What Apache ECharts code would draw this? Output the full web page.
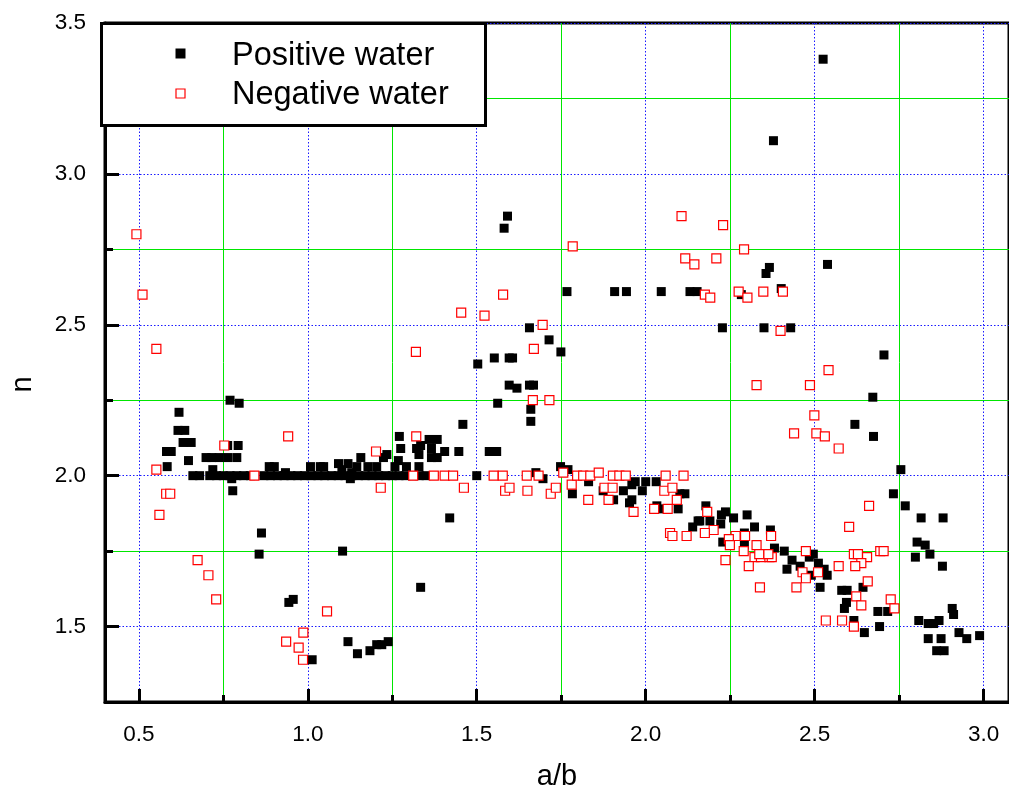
<!DOCTYPE html>
<html>
<head>
<meta charset="utf-8">
<script src="https://cdn.jsdelivr.net/npm/echarts@6/dist/echarts.min.js"></script>
<style>html,body{margin:0;padding:0;background:#fff}#c{width:1009px;height:796px}</style>
</head>
<body>
<div id="c"></div>
<script>
// ---- data ----
const seriesNames = ['Positive water', 'Negative water'];
const xTitle = 'a/b';
const yTitle = 'n';
const xMajorTicks = [0.5, 1.0, 1.5, 2.0, 2.5, 3.0];
const xMinorTicks = [0.75, 1.25, 1.75, 2.25, 2.75];
const yMajorTicks = [1.5, 2.0, 2.5, 3.0, 3.5];
const yMinorTicks = [1.75, 2.25, 2.75, 3.25];
const xRange = [0.4, 3.075];
const yRange = [1.25, 3.5];

const positiveWater = [
  [0.584,2.03],[0.582,2.08],[0.596,2.08],[0.616,2.15],[0.636,2.15],[0.619,2.21],[0.631,2.11],[0.655,2.11],
  [0.647,2.05],[0.699,2.06],[0.716,2.06],[0.738,2.06],[0.763,2.06],[0.79,2.06],[0.719,2.02],[0.763,2.10],
  [0.794,2.10],[0.77,2.25],[0.797,2.24],[0.775,1.99],[0.778,1.95],[0.863,1.81],[0.856,1.74],[0.944,1.58],
  [0.957,1.59],[1.013,1.39],[1.103,1.75],[1.119,1.45],[1.147,1.41],[1.184,1.42],[1.204,1.44],[1.219,1.44],
  [1.238,1.45],[1.334,1.63],[1.42,1.86],
  [0.66,2.0],[0.68,2.0],[0.71,2.0],[0.73,2.0],[0.75,2.0],[0.77,2.0],[0.79,2.0],[0.81,2.0],[0.83,2.0],
  [0.87,2.0],[0.89,2.0],[0.91,2.0],[0.93,2.0],[0.95,2.0],[0.97,2.0],[0.99,2.0],[1.01,2.0],[1.03,2.0],
  [1.05,2.0],[1.07,2.0],[1.09,2.0],[1.11,2.0],[1.13,2.0],[1.15,2.0],[1.17,2.0],[1.19,2.0],[1.21,2.0],
  [1.23,2.0],[1.25,2.0],[1.27,2.0],[1.29,2.0],[1.31,2.0],[1.33,2.0],[1.35,2.0],[1.50,2.0],
  [0.886,2.03],[0.901,2.03],[0.934,2.01],[1.008,2.03],[1.037,2.03],[1.047,2.03],[1.091,2.04],[1.119,2.04],
  [1.101,2.02],[1.13,2.01],[1.126,1.99],[1.145,2.03],[1.178,2.03],[1.204,2.03],[1.157,2.06],[1.224,2.06],
  [1.234,2.07],[1.258,2.03],[1.268,2.05],[1.275,2.09],[1.271,2.13],[1.292,2.03],[1.329,2.03],[1.329,2.07],
  [1.334,2.10],[1.322,2.09],[1.366,2.09],[1.359,2.12],[1.383,2.12],[1.366,2.06],[1.383,2.06],[1.405,2.08],
  [1.447,2.08],[1.459,2.17],[1.537,2.08],[1.559,2.08],[1.503,2.37],[1.552,2.39],[1.562,2.24],[1.581,2.82],
  [1.591,2.86],[1.596,2.39],[1.606,2.39],[1.596,2.30],[1.619,2.29],[1.656,2.30],[1.668,2.30],[1.656,2.49],
  [1.714,2.45],[1.749,2.41],[1.66,2.18],[1.66,2.22],
  [1.767,2.61],[1.908,2.61],[1.943,2.61],[2.046,2.61],[2.131,2.61],[2.152,2.61],[2.283,2.60],[2.401,2.62],
  [2.227,2.49],[2.35,2.49],[2.429,2.49],[2.366,2.69],[2.356,2.67],[2.538,2.70],[2.378,3.11],[2.525,3.38],
  [2.705,2.40],[2.672,2.26],[2.619,2.17],[2.674,2.13],[2.755,2.02],[2.733,1.94],[2.768,1.90],[2.815,1.86],
  [2.88,1.86],[2.803,1.78],[2.827,1.77],[2.798,1.73],[2.841,1.74],[2.878,1.70],
  [1.675,2.01],[1.696,1.99],[1.748,2.03],[1.77,2.02],[1.783,1.94],[1.831,1.98],[1.874,1.95],[1.905,1.92],
  [1.934,1.95],[1.959,1.97],[1.969,1.98],[2.0,1.98],[2.031,1.98],[1.99,1.95],[1.952,1.91],[1.959,1.92],
  [2.101,1.94],[2.116,1.94],[2.033,1.90],[2.047,1.89],[2.096,1.89],[2.178,1.90],[2.224,1.87],[2.236,1.88],
  [2.26,1.86],[2.30,1.87],[2.16,1.85],[2.19,1.85],[2.222,1.84],[2.139,1.83],[2.155,1.85],[2.322,1.83],
  [2.292,1.81],[2.369,1.82],[2.228,1.78],[2.292,1.77],[2.381,1.76],[2.41,1.75],[2.496,1.74],[2.433,1.72],
  [2.484,1.73],[2.511,1.71],[2.528,1.69],[2.418,1.69],[2.457,1.70],[2.537,1.67],[2.49,1.67],[2.516,1.63],
  [2.58,1.62],[2.596,1.62],[2.594,1.58],[2.588,1.56],[2.643,1.63],[2.616,1.52],[2.647,1.48],[2.687,1.55],
  [2.716,1.55],[2.692,1.50],[2.808,1.52],[2.836,1.51],[2.852,1.51],[2.868,1.52],[2.836,1.46],[2.874,1.46],
  [2.861,1.42],[2.883,1.42],[2.907,1.56],[2.911,1.54],[2.927,1.48],[2.95,1.46],[2.988,1.47]
];

const negativeWater = [
  [0.493,2.80],[0.511,2.60],[0.552,2.42],[0.552,2.02],[0.561,1.87],[0.581,1.94],[0.593,1.94],[0.674,1.72],
  [0.706,1.67],[0.729,1.59],[0.753,2.10],[0.842,2.0],[0.942,2.13],[0.936,1.45],[0.973,1.43],[0.987,1.48],
  [0.986,1.39],[1.057,1.55],[1.202,2.08],[1.216,1.96],[1.312,2.0],[1.321,2.13],[1.32,2.41],[1.373,2.0],
  [1.405,2.0],[1.43,2.0],[1.454,2.54],[1.462,1.96],[1.523,2.53],[1.55,2.0],[1.577,2.0],[1.578,2.60],
  [1.584,1.95],[1.597,1.96],[1.648,2.0],[1.65,1.95],[1.666,2.25],[1.715,2.25],[1.669,2.42],[1.695,2.50],
  [1.683,2.0],[1.719,1.94],[1.734,1.96],[1.756,2.01],[1.781,1.97],[1.784,2.76],[1.797,2.0],[1.815,2.0],
  [1.836,2.0],[1.861,2.01],[1.83,1.92],[1.878,1.96],[1.902,1.96],[1.89,1.92],[1.903,2.0],[1.922,2.0],
  [1.941,2.0],[1.964,1.88],[2.025,1.89],[2.055,1.95],[2.059,2.0],[2.065,1.89],[2.079,1.96],[2.092,1.92],
  [2.112,2.0],[2.072,1.81],[2.079,1.80],[2.121,1.80],[2.106,2.86],[2.117,2.72],[2.144,2.70],[2.175,2.60],
  [2.191,2.59],[2.209,2.72],[2.229,2.83],[2.275,2.61],[2.291,2.75],[2.301,2.59],[2.348,2.61],[2.406,2.61],
  [2.399,2.48],[2.328,2.30],[2.486,2.30],[2.541,2.35],[2.499,2.20],[2.439,2.14],[2.505,2.14],[2.53,2.13],
  [2.571,2.09],[2.661,1.90],[2.602,1.83],
  [2.182,1.88],[2.201,1.82],[2.175,1.81],[2.266,1.80],[2.294,1.80],[2.371,1.80],[2.246,1.79],[2.249,1.77],
  [2.328,1.77],[2.474,1.75],[2.29,1.75],[2.236,1.72],[2.322,1.73],[2.341,1.73],[2.366,1.73],[2.373,1.73],
  [2.336,1.74],[2.363,1.74],[2.305,1.70],[2.464,1.68],[2.474,1.66],[2.51,1.68],[2.571,1.70],[2.338,1.63],
  [2.446,1.63],[2.616,1.74],[2.628,1.74],[2.655,1.73],[2.638,1.71],[2.62,1.70],[2.694,1.75],[2.704,1.75],
  [2.657,1.65],[2.623,1.60],[2.638,1.57],[2.725,1.59],[2.736,1.56],[2.533,1.52],[2.581,1.52],[2.616,1.50]
];

// ---- chart ----
const FONT = '"Liberation Sans", Arial, Helvetica, sans-serif';
const chart = echarts.init(document.getElementById('c'), null, {renderer: 'canvas'});
const fmt = v => Number(v).toFixed(1);
const blueDot = {color: '#1a1aff', width: 1, type: [1.5, 2]};
const green = {color: '#00e600', width: 1, type: 'solid'};

const option = {
  animation: false,
  backgroundColor: '#fff',
  grid: {left: 101.5, right: -2, top: 23, bottom: 90, show: true, borderColor: '#000', borderWidth: 3, backgroundColor: 'transparent'},
  xAxis: [
    {
      type: 'value', min: xRange[0], max: xRange[1], position: 'bottom',
      name: xTitle, nameLocation: 'middle', nameGap: 60,
      nameTextStyle: {fontFamily: FONT, fontSize: 29, color: '#000'},
      axisLine: {show: true, onZero: false, lineStyle: {color: '#000', width: 3}},
      axisTick: {show: true, inside: true, length: 13, customValues: xMajorTicks, lineStyle: {color: '#000', width: 3}},
      axisLabel: {show: true, customValues: xMajorTicks, formatter: fmt, fontFamily: FONT, fontSize: 22.5, color: '#000', margin: 21},
      splitLine: {show: true, lineStyle: blueDot},
      minorTick: {show: false}
    },
    {
      type: 'value', min: xRange[0], max: xRange[1], position: 'bottom',
      axisLine: {show: false},
      axisTick: {show: true, inside: true, length: 7, customValues: xMinorTicks, lineStyle: {color: '#000', width: 3}},
      axisLabel: {show: false},
      splitLine: {show: true, lineStyle: green}
    }
  ],
  yAxis: [
    {
      type: 'value', min: yRange[0], max: yRange[1], position: 'left',
      name: yTitle, nameLocation: 'middle', nameGap: 68, nameRotate: 90,
      nameTextStyle: {fontFamily: FONT, fontSize: 29, color: '#000', padding: [0, 44, 0, 0]},
      axisLine: {show: true, onZero: false, lineStyle: {color: '#000', width: 3}},
      axisTick: {show: true, inside: true, length: 14, customValues: yMajorTicks, lineStyle: {color: '#000', width: 3}},
      axisLabel: {show: true, customValues: yMajorTicks, formatter: fmt, fontFamily: FONT, fontSize: 22.5, color: '#000', margin: 19},
      splitLine: {show: true, lineStyle: blueDot}
    },
    {
      type: 'value', min: yRange[0], max: yRange[1], position: 'left',
      axisLine: {show: false},
      axisTick: {show: true, inside: true, length: 8, customValues: yMinorTicks, lineStyle: {color: '#000', width: 3}},
      axisLabel: {show: false},
      splitLine: {show: true, lineStyle: green}
    }
  ],
  series: [
    {
      name: seriesNames[0], type: 'scatter', xAxisIndex: 0, yAxisIndex: 0,
      data: positiveWater, symbol: 'rect', symbolSize: 9,
      itemStyle: {color: '#000', opacity: 1}, z: 3
    },
    {
      name: seriesNames[1], type: 'scatter', xAxisIndex: 0, yAxisIndex: 0,
      data: negativeWater, symbol: 'rect', symbolSize: 9,
      itemStyle: {color: '#fff', borderColor: '#ff0000', borderWidth: 1.2, opacity: 1}, z: 4
    }
  ],
  graphic: [
    {
      type: 'group', z: 100,
      children: [
        {type: 'rect', shape: {x: 101.5, y: 23.5, width: 384, height: 102}, style: {fill: '#fff', stroke: '#000', lineWidth: 3}, z: 100},
        {type: 'rect', shape: {x: 175.5, y: 48.5, width: 10, height: 10}, style: {fill: '#000'}, z: 101},
        {type: 'rect', shape: {x: 176, y: 89, width: 9, height: 9}, style: {fill: '#fff', stroke: '#ff0000', lineWidth: 1.2}, z: 101},
        {type: 'text', x: 232, y: 56, style: {text: seriesNames[0], font: '32.5px ' + FONT, fill: '#000', textVerticalAlign: 'middle', verticalAlign: 'middle'}, z: 101},
        {type: 'text', x: 232, y: 95, style: {text: seriesNames[1], font: '32.5px ' + FONT, fill: '#000', textVerticalAlign: 'middle', verticalAlign: 'middle'}, z: 101}
      ]
    }
  ]
};
chart.setOption(option);
</script>
</body>
</html>
